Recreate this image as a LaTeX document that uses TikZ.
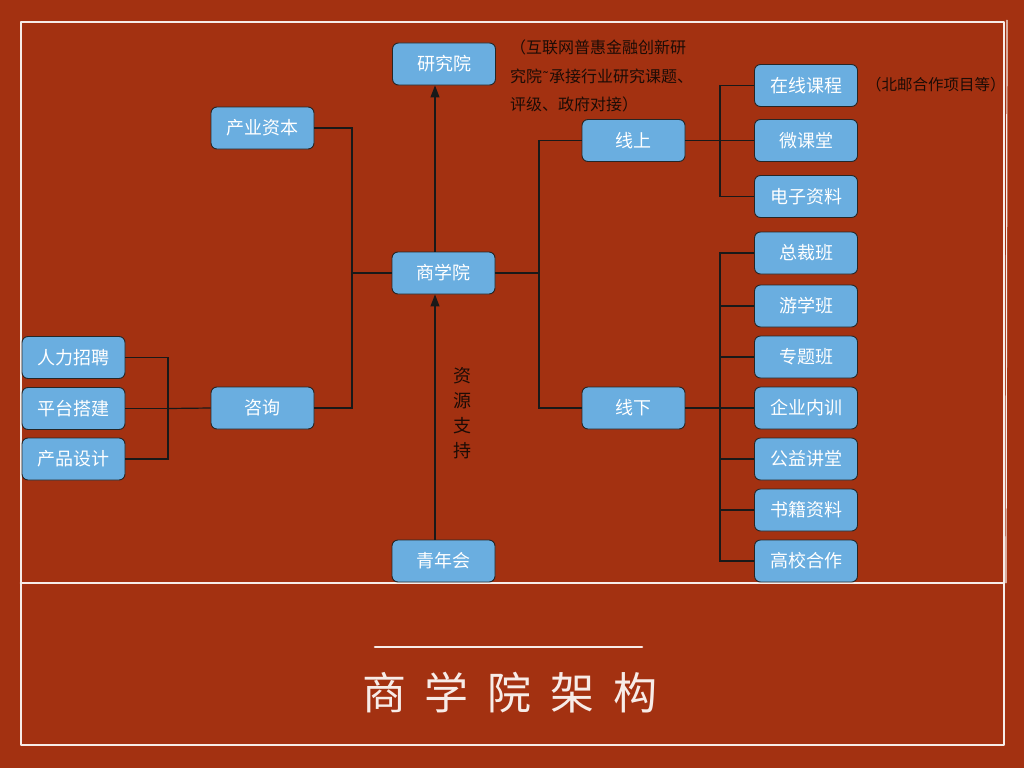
\documentclass[tikz,border=0pt]{standalone}
\usepackage{fontspec}
\setmainfont{Noto Sans CJK SC}
\newfontfamily\cjk{Noto Sans CJK SC}
\newfontfamily\dejavu{DejaVu Sans}
\usetikzlibrary{arrows.meta}
\definecolor{bgred}{HTML}{A33111}
\definecolor{boxblue}{HTML}{6AAEE0}
\definecolor{framew}{HTML}{F7ECE8}
\definecolor{darktxt}{HTML}{1C0C06}
\tikzset{
  box/.style={draw=black!85, line width=0.9pt, fill=boxblue, rounded corners=6pt,
    minimum width=103pt, minimum height=42pt, inner sep=0pt,
    text=white, font=\cjk\fontsize{18}{20}\selectfont},
  link/.style={draw=black!90, line width=1.2pt},
  arr/.style={link, -{Triangle[length=12pt,width=9pt]}},
  note/.style={inner sep=0pt, text=darktxt, font=\cjk\fontsize{16}{18}\selectfont, anchor=west},
  framel/.style={draw=framew, line width=2.6pt, line cap=round, line join=round}
}
\begin{document}
\begin{tikzpicture}[x=1pt,y=-1pt]
\useasboundingbox (0,0) rectangle (1024,768);
\fill[bgred] (0,0) rectangle (1024,768);
% frame
\draw[framel] (21,22) rectangle (1004,745);
\draw[framel] (21,583) -- (1004,583);
\draw[draw=framew, line width=1.2pt] (1007,20) -- (1006,583);
% center column
\node[box] (yjy) at (444,64) {研究院};
\node[box] (sxy) at (443.5,273) {商学院};
\node[box] (qnh) at (443.5,561) {青年会};
\node[box] (cyzb) at (262.5,128) {产业资本};
\node[box] (zx) at (262.5,408) {咨询};
\node[box] (rl) at (73.5,357.5) {人力招聘};
\node[box] (pt) at (73.5,408.5) {平台搭建};
\node[box] (cp) at (73.5,459) {产品设计};
\node[box] (xs) at (633.5,140.5) {线上};
\node[box] (xx) at (633.5,408) {线下};
\node[box] (zxkc) at (806,85.5) {在线课程};
\node[box] (wkt) at (806,140.5) {微课堂};
\node[box] (dzzl) at (806,196.5) {电子资料};
\node[box] (zcb) at (806,253) {总裁班};
\node[box] (yxb) at (806,306) {游学班};
\node[box] (ztb) at (806,357) {专题班};
\node[box] (qynx) at (806,408) {企业内训};
\node[box] (gyjt) at (806,459) {公益讲堂};
\node[box] (sjzl) at (806,510) {书籍资料};
\node[box] (gxhz) at (806,561) {高校合作};
% notes
\node[note] (n1) at (510,47) {（互联网普惠金融创新研};
\node[note] (n2) at (510,76) {究院{\dejavu\fontsize{14}{16}\selectfont ˜}承接行业研究课题、};
\node[note] (n3) at (510,104) {评级、政府对接）};
\node[note, font=\cjk\fontsize{15.5}{17}\selectfont] (n4) at (866,85) {（北邮合作项目等）};
\node[inner sep=0pt, text=darktxt, font=\cjk\fontsize{18}{25}\selectfont, align=center] (zyzc) at (462,413) {资\\源\\支\\持};
% arrows
\draw[arr] ([xshift=-8.5pt]sxy.north) -- ([xshift=-9pt]yjy.south);
\draw[arr] ([xshift=-8.5pt]qnh.north) -- ([xshift=-8.5pt]sxy.south);
% junctions
\coordinate (jL) at (352,273);
\coordinate (jZ) at (168,408.5);
\coordinate (jR) at (539,273);
\coordinate (jS) at (720,140.5);
\coordinate (jX) at (720,408);
\draw[link] (sxy.west) -- (jL);
\draw[link] (jL) |- (cyzb.east);
\draw[link] (jL) |- (zx.east);
\draw[link] (zx.west) -- (jZ);
\draw[link] (jZ) |- (rl.east);
\draw[link] (jZ) -- (pt.east);
\draw[link] (jZ) |- (cp.east);
\draw[link] (sxy.east) -- (jR);
\draw[link] (jR) |- (xs.west);
\draw[link] (jR) |- (xx.west);
\draw[link] (xs.east) -- (jS);
\draw[link] (jS) |- (zxkc.west);
\draw[link] (jS) -- (wkt.west);
\draw[link] (jS) |- (dzzl.west);
\draw[link] (xx.east) -- (jX);
\foreach \n in {zcb,yxb,ztb,qynx,gyjt,sjzl,gxhz} \draw[link] (jX) |- (\n.west);
% title
\draw[draw=framew, line width=2.6pt, line cap=round] (375,647) -- (642,647);
\node[inner sep=0pt, text=framew, font=\cjk\fontsize{44}{46}\selectfont] (title) at (510,693) {商\hspace{19pt}学\hspace{19pt}院\hspace{19pt}架\hspace{19pt}构};
\end{tikzpicture}
\end{document}
